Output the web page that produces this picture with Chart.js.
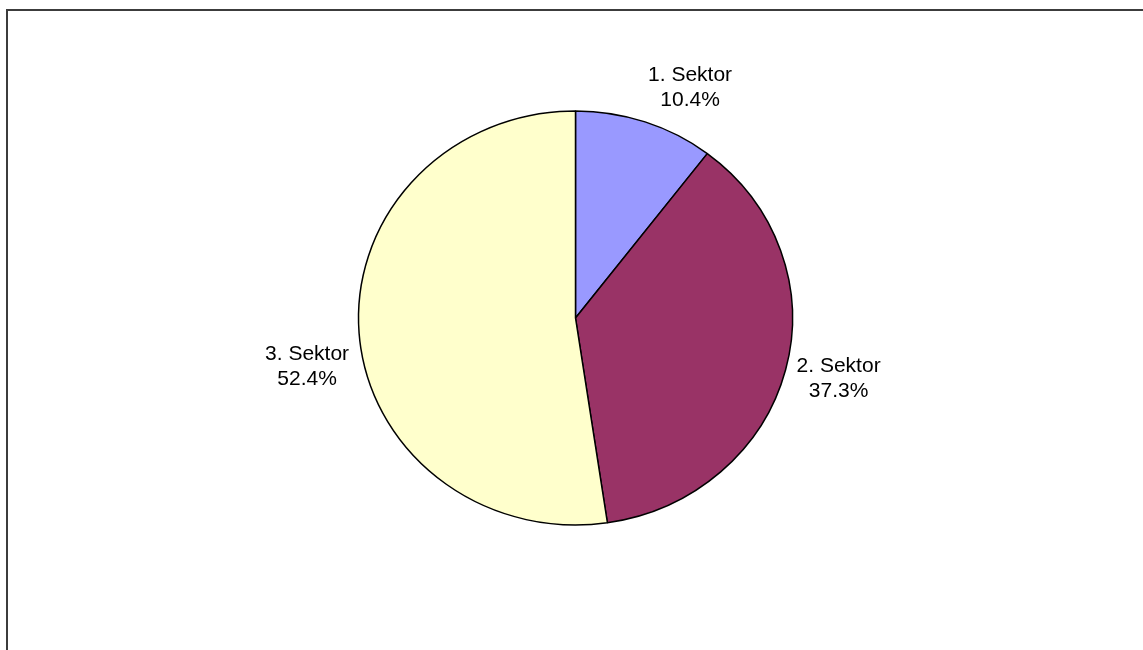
<!DOCTYPE html>
<html>
<head>
<meta charset="utf-8">
<title>Sektoren</title>
<script src="https://cdn.jsdelivr.net/npm/chart.js@4.4.1/dist/chart.umd.min.js"></script>
<style>
  html, body { margin: 0; padding: 0; background: #fff; overflow: hidden; }
  #wrap { position: relative; width: 1143px; height: 650px; }
  #frame {
    position: absolute; left: 6px; top: 9px; width: 1200px; height: 700px;
    border-left: 2px solid #3c3c3c; border-top: 2px solid #3c3c3c;
  }
  #sectorChart { position: absolute; left: 0; top: 0; }
</style>
</head>
<body>
<div id="wrap">
  <div id="frame"></div>
  <canvas id="sectorChart" width="1143" height="650"></canvas>
</div>
<script>
const sectorLabels = ["1. Sektor", "2. Sektor", "3. Sektor"];
const sectorShares = [10.4, 37.3, 52.4];
const sectorColors = ["#9999FF", "#993366", "#FFFFCC"];

// label offset from the slice edge midpoint (x, y of first text line)
const labelNudge = [[45, -41], [53, 2], [-52, 27]];

const PIE_RX = 217;
const PIE_RY = 207;

// squash the round pie slightly so it draws as an ellipse
const ellipsePlugin = {
  id: "ellipse",
  beforeDatasetsDraw(chart) {
    const arc = chart.getDatasetMeta(0).data[0];
    const ctx = chart.ctx;
    ctx.save();
    ctx.translate(arc.x, arc.y);
    ctx.scale(1, PIE_RY / PIE_RX);
    ctx.translate(-arc.x, -arc.y);
  },
  afterDatasetsDraw(chart) {
    chart.ctx.restore();
  }
};

// name + percentage next to each slice
const sliceLabels = {
  id: "sliceLabels",
  afterDraw(chart) {
    const ctx = chart.ctx;
    const arcs = chart.getDatasetMeta(0).data;
    ctx.save();
    ctx.font = "21px 'Liberation Sans', Arial, sans-serif";
    ctx.fillStyle = "#000";
    ctx.textAlign = "center";
    ctx.textBaseline = "alphabetic";
    arcs.forEach((arc, i) => {
      const mid = (arc.startAngle + arc.endAngle) / 2;
      const ex = arc.x + Math.cos(mid) * arc.outerRadius;
      const ey = arc.y + Math.sin(mid) * arc.outerRadius * (PIE_RY / PIE_RX);
      const x = ex + labelNudge[i][0];
      const y = ey + labelNudge[i][1];
      ctx.fillText(sectorLabels[i], x, y);
      ctx.fillText(sectorShares[i].toFixed(1) + "%", x, y + 25);
    });
    ctx.restore();
  }
};

new Chart(document.getElementById("sectorChart"), {
  type: "pie",
  data: {
    labels: sectorLabels,
    datasets: [{
      data: sectorShares,
      backgroundColor: sectorColors,
      borderColor: "#000",
      borderWidth: 1.5
    }]
  },
  options: {
    responsive: false,
    animation: false,
    radius: PIE_RX,
    layout: { padding: { left: 8, right: 0, top: 0, bottom: 14 } },
    plugins: {
      legend: { display: false },
      tooltip: { enabled: false }
    }
  },
  plugins: [ellipsePlugin, sliceLabels]
});
</script>
</body>
</html>
